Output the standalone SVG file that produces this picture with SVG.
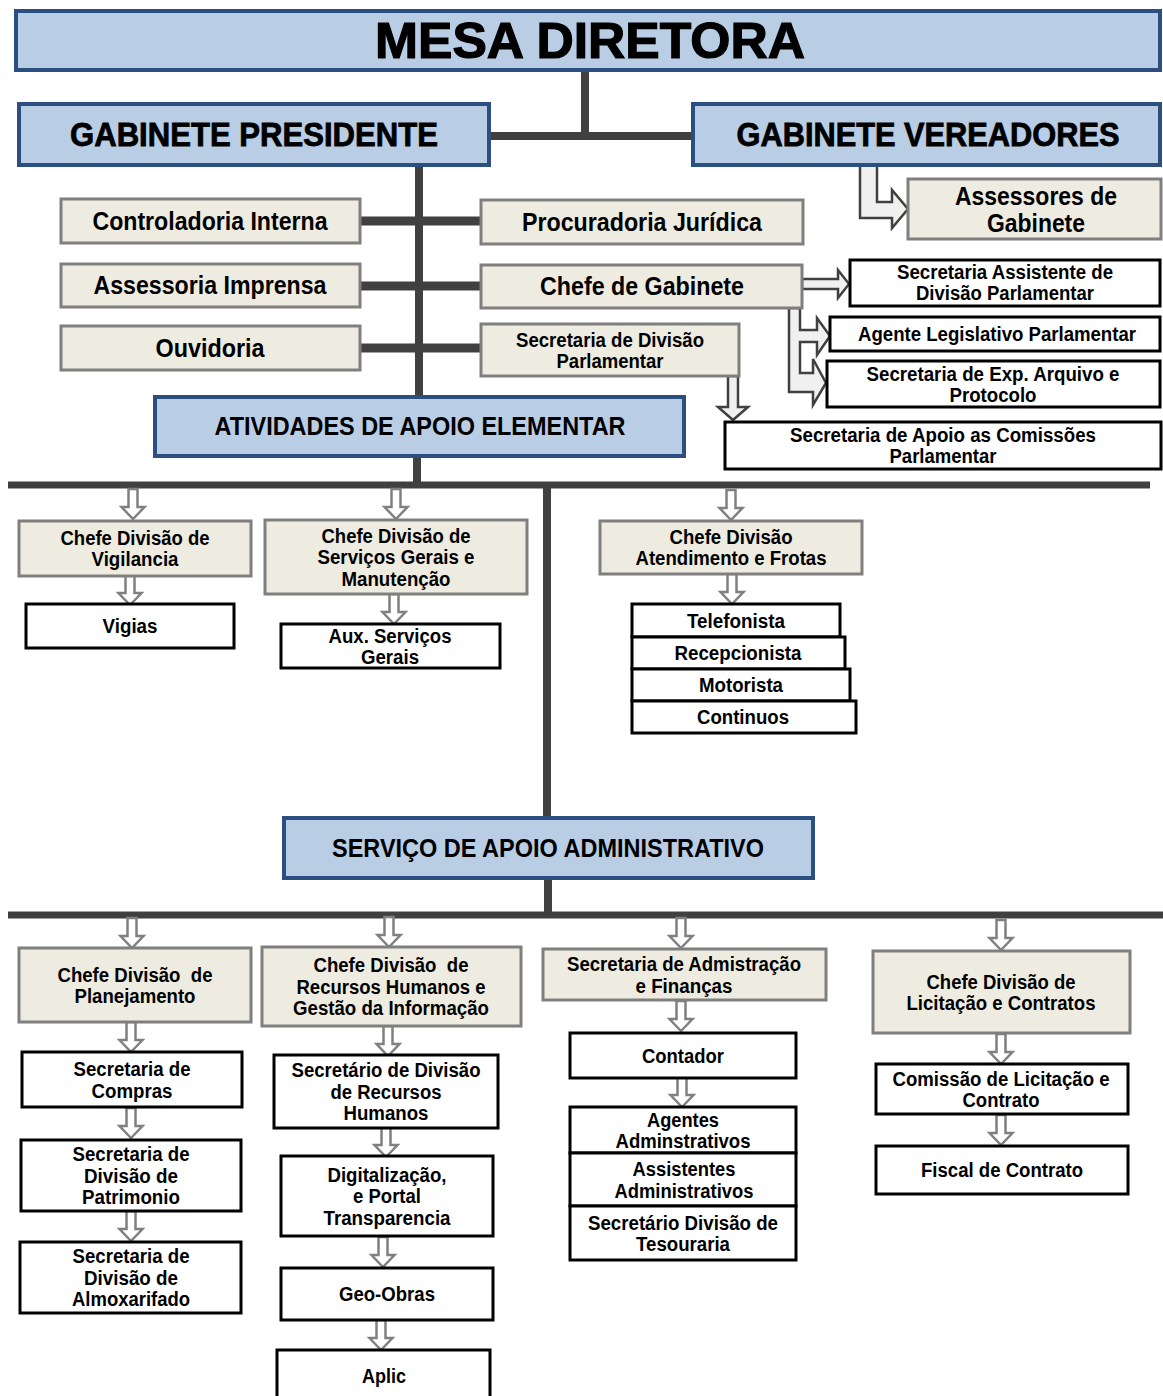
<svg xmlns="http://www.w3.org/2000/svg" xmlns:xlink="http://www.w3.org/1999/xlink" width="1163" height="1396" viewBox="0 0 1163 1396">
<style>
.blue{fill:#b9cde5;stroke:#2b5080;stroke-width:4}
.beige{fill:#eeece1;stroke:#7f7f7f;stroke-width:3}
.white{fill:#fff;stroke:#000;stroke-width:3}
.t{font-family:"Liberation Sans",Arial,sans-serif;font-weight:bold;text-anchor:middle;fill:#000}
.s{font-size:19.5px}
.m{font-size:25px}
.h{font-size:33px;stroke:#000;stroke-width:0.8}
.x{font-size:50px;stroke:#000;stroke-width:1.2}
.line{stroke:#404040;stroke-width:8;fill:none}
.hl{stroke:#404040;stroke-width:7;fill:none}
.dn{fill:#fff;stroke:#808080;stroke-width:2.5}
.blk{fill:#f0f0f0;stroke:#404040;stroke-width:2.5}
</style>
<defs>
<path id="da" class="dn" d="M-4.5,0 H4.5 V18 H11.5 L0,30 L-11.5,18 H-4.5 Z"/>
</defs>
<rect width="1163" height="1396" fill="#fff"/>

<g id="connectors">
<path class="line" d="M585,70 V136 M489,136 H693"/>
<path class="line" d="M419,165 V397"/>
<path class="line" d="M360,221 H481 M360,286 H481 M360,348 H481" style="stroke-width:9"/>
<path class="line" d="M417,456 V485"/>
<path class="hl" d="M8,485 H1150"/>
<path class="line" d="M547,485 V818"/>
<path class="line" d="M548,878 V915"/>
<path class="hl" d="M8,915 H1163"/>
<polygon class="blk" points="860,165 877,165 877,202 892,202 892,190 908,209 892,228 892,218 860,218"/>
<polygon class="blk" points="802,279 838,279 838,270 849,284 838,298 838,289 802,289"/>
<polygon class="blk" points="789,308 800,308 800,330 817,330 817,318 830,336 817,355 817,342 800,342 800,373 813,373 813,359 826,383 813,405 813,392 789,392"/>
<polygon class="blk" points="728,376 738,376 738,407 748,407 733,420 718,407 728,407"/>
<use xlink:href="#da" x="133" y="489"/>
<use xlink:href="#da" x="396" y="489"/>
<use xlink:href="#da" x="731" y="490"/>
<use xlink:href="#da" x="130" y="575"/>
<use xlink:href="#da" x="394" y="594"/>
<use xlink:href="#da" x="732" y="574"/>
<use xlink:href="#da" x="132" y="918"/>
<use xlink:href="#da" x="389" y="917"/>
<use xlink:href="#da" x="681" y="918"/>
<use xlink:href="#da" x="1001" y="920"/>
<use xlink:href="#da" x="131" y="1022"/>
<use xlink:href="#da" x="131" y="1108"/>
<use xlink:href="#da" x="131" y="1211"/>
<use xlink:href="#da" x="388" y="1026"/>
<use xlink:href="#da" x="386" y="1127"/>
<use xlink:href="#da" x="383" y="1237"/>
<use xlink:href="#da" x="381" y="1320"/>
<use xlink:href="#da" x="681" y="1001"/>
<use xlink:href="#da" x="682" y="1077"/>
<use xlink:href="#da" x="1001" y="1034"/>
<use xlink:href="#da" x="1001" y="1115"/>
</g>

<g id="mesa-diretora"><rect class="blue" x="16" y="11" width="1144" height="59"/><text class="t x" x="590" y="58" textLength="430" lengthAdjust="spacingAndGlyphs">MESA DIRETORA</text></g>
<g id="gabinete-presidente"><rect class="blue" x="19" y="104" width="470" height="61"/><text class="t h" x="254" y="146" textLength="368" lengthAdjust="spacingAndGlyphs">GABINETE PRESIDENTE</text></g>
<g id="gabinete-vereadores"><rect class="blue" x="693" y="104" width="467" height="61"/><text class="t h" x="928" y="146" textLength="383" lengthAdjust="spacingAndGlyphs">GABINETE VEREADORES</text></g>

<g id="controladoria"><rect class="beige" x="61" y="199" width="299" height="44"/><text class="t m" x="210" y="230" textLength="235" lengthAdjust="spacingAndGlyphs">Controladoria Interna</text></g>
<g id="procuradoria"><rect class="beige" x="481" y="200" width="322" height="44"/><text class="t m" x="642" y="231" textLength="240" lengthAdjust="spacingAndGlyphs">Procuradoria Jurídica</text></g>
<g id="assessoria-imprensa"><rect class="beige" x="61" y="264" width="299" height="43"/><text class="t m" x="210" y="294" textLength="233" lengthAdjust="spacingAndGlyphs">Assessoria Imprensa</text></g>
<g id="chefe-gabinete"><rect class="beige" x="481" y="265" width="321" height="43"/><text class="t m" x="642" y="295" textLength="204" lengthAdjust="spacingAndGlyphs">Chefe de Gabinete</text></g>
<g id="ouvidoria"><rect class="beige" x="61" y="326" width="299" height="44"/><text class="t m" x="210" y="357" textLength="109" lengthAdjust="spacingAndGlyphs">Ouvidoria</text></g>
<g id="sec-div-parlamentar"><rect class="beige" x="481" y="324" width="258" height="52"/><text class="t s" x="610" y="347" textLength="188" lengthAdjust="spacingAndGlyphs">Secretaria de Divisão</text><text class="t s" x="610" y="368" textLength="107" lengthAdjust="spacingAndGlyphs">Parlamentar</text></g>
<g id="atividades"><rect class="blue" x="155" y="397" width="529" height="59"/><text class="t m" x="420" y="435" textLength="411" lengthAdjust="spacingAndGlyphs">ATIVIDADES DE APOIO ELEMENTAR</text></g>

<g id="assessores-gabinete"><rect class="beige" x="908" y="179" width="253" height="60"/><text class="t m" x="1036" y="205" textLength="162" lengthAdjust="spacingAndGlyphs">Assessores de</text><text class="t m" x="1036" y="232" textLength="98" lengthAdjust="spacingAndGlyphs">Gabinete</text></g>
<g id="sec-assistente"><rect class="white" x="850" y="260" width="310" height="46"/><text class="t s" x="1005" y="279" textLength="216" lengthAdjust="spacingAndGlyphs">Secretaria Assistente de</text><text class="t s" x="1005" y="300" textLength="178" lengthAdjust="spacingAndGlyphs">Divisão Parlamentar</text></g>
<g id="agente-legislativo"><rect class="white" x="830" y="317" width="330" height="34"/><text class="t s" x="997" y="341" textLength="278" lengthAdjust="spacingAndGlyphs">Agente Legislativo Parlamentar</text></g>
<g id="sec-exp-arquivo"><rect class="white" x="827" y="361" width="333" height="46"/><text class="t s" x="993" y="380.5" textLength="253" lengthAdjust="spacingAndGlyphs">Secretaria de Exp. Arquivo e</text><text class="t s" x="993" y="401.5" textLength="87" lengthAdjust="spacingAndGlyphs">Protocolo</text></g>
<g id="sec-apoio-comissoes"><rect class="white" x="725" y="422" width="436" height="47"/><text class="t s" x="943" y="442" textLength="306" lengthAdjust="spacingAndGlyphs">Secretaria de Apoio as Comissões</text><text class="t s" x="943" y="463" textLength="107" lengthAdjust="spacingAndGlyphs">Parlamentar</text></g>

<g id="chefe-vigilancia"><rect class="beige" x="19" y="521" width="232" height="55"/><text class="t s" x="135" y="545" textLength="149" lengthAdjust="spacingAndGlyphs">Chefe Divisão de</text><text class="t s" x="135" y="566" textLength="87" lengthAdjust="spacingAndGlyphs">Vigilancia</text></g>
<g id="vigias"><rect class="white" x="26" y="604" width="208" height="44"/><text class="t s" x="130" y="633" textLength="55" lengthAdjust="spacingAndGlyphs">Vigias</text></g>
<g id="chefe-servicos-gerais"><rect class="beige" x="265" y="520" width="262" height="74"/><text class="t s" x="396" y="542.5" textLength="149" lengthAdjust="spacingAndGlyphs">Chefe Divisão de</text><text class="t s" x="396" y="564" textLength="157" lengthAdjust="spacingAndGlyphs">Serviços Gerais e</text><text class="t s" x="396" y="585.5" textLength="109" lengthAdjust="spacingAndGlyphs">Manutenção</text></g>
<g id="aux-servicos"><rect class="white" x="281" y="624" width="219" height="44"/><text class="t s" x="390" y="643" textLength="123" lengthAdjust="spacingAndGlyphs">Aux. Serviços</text><text class="t s" x="390" y="664" textLength="58" lengthAdjust="spacingAndGlyphs">Gerais</text></g>
<g id="chefe-atendimento"><rect class="beige" x="600" y="521" width="262" height="53"/><text class="t s" x="731" y="544" textLength="123" lengthAdjust="spacingAndGlyphs">Chefe Divisão</text><text class="t s" x="731" y="565" textLength="191" lengthAdjust="spacingAndGlyphs">Atendimento e Frotas</text></g>
<g id="telefonista"><rect class="white" x="632" y="604" width="208" height="33"/><text class="t s" x="736" y="627.5" textLength="98" lengthAdjust="spacingAndGlyphs">Telefonista</text></g>
<g id="recepcionista"><rect class="white" x="632" y="637" width="213" height="32"/><text class="t s" x="738" y="660" textLength="127" lengthAdjust="spacingAndGlyphs">Recepcionista</text></g>
<g id="motorista"><rect class="white" x="632" y="669" width="218" height="32"/><text class="t s" x="741" y="692" textLength="84" lengthAdjust="spacingAndGlyphs">Motorista</text></g>
<g id="continuos"><rect class="white" x="632" y="701" width="224" height="32"/><text class="t s" x="743" y="724" textLength="92" lengthAdjust="spacingAndGlyphs">Continuos</text></g>

<g id="servico-apoio"><rect class="blue" x="284" y="818" width="529" height="60"/><text class="t m" x="548" y="857" textLength="432" lengthAdjust="spacingAndGlyphs">SERVIÇO DE APOIO ADMINISTRATIVO</text></g>

<g id="chefe-planejamento"><rect class="beige" x="19" y="948" width="232" height="74"/><text class="t s" x="135" y="981.5" textLength="155" lengthAdjust="spacingAndGlyphs">Chefe Divisão &#160;de</text><text class="t s" x="135" y="1003" textLength="121" lengthAdjust="spacingAndGlyphs">Planejamento</text></g>
<g id="sec-compras"><rect class="white" x="22" y="1052" width="220" height="55"/><text class="t s" x="132" y="1076" textLength="117" lengthAdjust="spacingAndGlyphs">Secretaria de</text><text class="t s" x="132" y="1097.5" textLength="81" lengthAdjust="spacingAndGlyphs">Compras</text></g>
<g id="sec-patrimonio"><rect class="white" x="21" y="1140" width="220" height="71"/><text class="t s" x="131" y="1161" textLength="117" lengthAdjust="spacingAndGlyphs">Secretaria de</text><text class="t s" x="131" y="1182.5" textLength="94" lengthAdjust="spacingAndGlyphs">Divisão de</text><text class="t s" x="131" y="1204" textLength="98" lengthAdjust="spacingAndGlyphs">Patrimonio</text></g>
<g id="sec-almoxarifado"><rect class="white" x="20" y="1242" width="221" height="71"/><text class="t s" x="131" y="1263" textLength="117" lengthAdjust="spacingAndGlyphs">Secretaria de</text><text class="t s" x="131" y="1284.5" textLength="94" lengthAdjust="spacingAndGlyphs">Divisão de</text><text class="t s" x="131" y="1306" textLength="118" lengthAdjust="spacingAndGlyphs">Almoxarifado</text></g>

<g id="chefe-rh"><rect class="beige" x="262" y="947" width="259" height="79"/><text class="t s" x="391" y="972" textLength="155" lengthAdjust="spacingAndGlyphs">Chefe Divisão &#160;de</text><text class="t s" x="391" y="993.5" textLength="189" lengthAdjust="spacingAndGlyphs">Recursos Humanos e</text><text class="t s" x="391" y="1015" textLength="196" lengthAdjust="spacingAndGlyphs">Gestão da Informação</text></g>
<g id="sec-rh"><rect class="white" x="274" y="1055" width="224" height="73"/><text class="t s" x="386" y="1077" textLength="189" lengthAdjust="spacingAndGlyphs">Secretário de Divisão</text><text class="t s" x="386" y="1098.5" textLength="111" lengthAdjust="spacingAndGlyphs">de Recursos</text><text class="t s" x="386" y="1120" textLength="85" lengthAdjust="spacingAndGlyphs">Humanos</text></g>
<g id="digitalizacao"><rect class="white" x="281" y="1156" width="212" height="80"/><text class="t s" x="387" y="1181.5" textLength="119" lengthAdjust="spacingAndGlyphs">Digitalização,</text><text class="t s" x="387" y="1203" textLength="68" lengthAdjust="spacingAndGlyphs">e Portal</text><text class="t s" x="387" y="1224.5" textLength="127" lengthAdjust="spacingAndGlyphs">Transparencia</text></g>
<g id="geo-obras"><rect class="white" x="281" y="1268" width="212" height="52"/><text class="t s" x="387" y="1301" textLength="96" lengthAdjust="spacingAndGlyphs">Geo-Obras</text></g>
<g id="aplic"><rect class="white" x="277" y="1350" width="213" height="60"/><text class="t s" x="384" y="1383" textLength="44" lengthAdjust="spacingAndGlyphs">Aplic</text></g>

<g id="sec-admin-financas"><rect class="beige" x="543" y="949" width="283" height="51"/><text class="t s" x="684" y="971" textLength="234" lengthAdjust="spacingAndGlyphs">Secretaria de Admistração</text><text class="t s" x="684" y="992.5" textLength="97" lengthAdjust="spacingAndGlyphs">e Finanças</text></g>
<g id="contador"><rect class="white" x="570" y="1033" width="226" height="45"/><text class="t s" x="683" y="1062.5" textLength="82" lengthAdjust="spacingAndGlyphs">Contador</text></g>
<g id="agentes-adm"><rect class="white" x="570" y="1107" width="226" height="46"/><text class="t s" x="683" y="1127" textLength="72" lengthAdjust="spacingAndGlyphs">Agentes</text><text class="t s" x="683" y="1148" textLength="135" lengthAdjust="spacingAndGlyphs">Adminstrativos</text></g>
<g id="assistentes-adm"><rect class="white" x="570" y="1153" width="226" height="53"/><text class="t s" x="684" y="1176" textLength="103" lengthAdjust="spacingAndGlyphs">Assistentes</text><text class="t s" x="684" y="1197.5" textLength="139" lengthAdjust="spacingAndGlyphs">Administrativos</text></g>
<g id="sec-tesouraria"><rect class="white" x="570" y="1206" width="226" height="54"/><text class="t s" x="683" y="1229.5" textLength="190" lengthAdjust="spacingAndGlyphs">Secretário Divisão de</text><text class="t s" x="683" y="1251" textLength="94" lengthAdjust="spacingAndGlyphs">Tesouraria</text></g>

<g id="chefe-licitacao"><rect class="beige" x="873" y="951" width="257" height="82"/><text class="t s" x="1001" y="988.5" textLength="149" lengthAdjust="spacingAndGlyphs">Chefe Divisão de</text><text class="t s" x="1001" y="1010" textLength="189" lengthAdjust="spacingAndGlyphs">Licitação e Contratos</text></g>
<g id="comissao-licitacao"><rect class="white" x="876" y="1064" width="252" height="50"/><text class="t s" x="1001" y="1085.5" textLength="217" lengthAdjust="spacingAndGlyphs">Comissão de Licitação e</text><text class="t s" x="1001" y="1107" textLength="77" lengthAdjust="spacingAndGlyphs">Contrato</text></g>
<g id="fiscal-contrato"><rect class="white" x="876" y="1146" width="252" height="48"/><text class="t s" x="1002" y="1177" textLength="162" lengthAdjust="spacingAndGlyphs">Fiscal de Contrato</text></g>
</svg>
